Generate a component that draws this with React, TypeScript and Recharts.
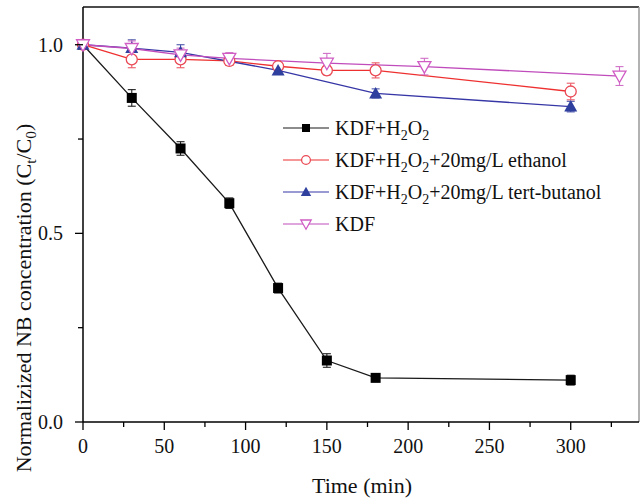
import React from "react";
import {
  LineChart,
  Line,
  XAxis,
  YAxis,
  ErrorBar,
  ReferenceLine,
  Legend,
  Label,
} from "recharts";

// 시간 (min) / 정규화 농도 C_t/C_0 / 표준편차
const kdfH2o2Time = [0, 30, 60, 90, 120, 150, 180, 300];
const kdfH2o2Value = [1.0, 0.859, 0.725, 0.58, 0.355, 0.163, 0.117, 0.111];
const kdfH2o2Err = [0, 0.022, 0.018, 0.014, 0.013, 0.018, 0.008, 0.013];

const ethanolTime = [0, 30, 60, 90, 120, 150, 180, 300];
const ethanolValue = [1.0, 0.961, 0.961, 0.957, 0.943, 0.932, 0.932, 0.876];
const ethanolErr = [0, 0.022, 0.022, 0.012, 0.01, 0.012, 0.02, 0.022];

const butanolTime = [0, 30, 60, 120, 180, 300];
const butanolValue = [1.0, 0.991, 0.98, 0.932, 0.871, 0.836];
const butanolErr = [0, 0.022, 0.02, 0.01, 0.012, 0.014];

const kdfTime = [0, 30, 60, 90, 150, 210, 330];
const kdfValue = [1.0, 0.99, 0.973, 0.964, 0.951, 0.942, 0.917];
const kdfErr = [0, 0.02, 0.018, 0.015, 0.026, 0.022, 0.025];

const xTicks = [0, 25, 50, 75, 100, 125, 150, 175, 200, 225, 250, 275, 300, 325];
const yTicks = [0, 0.25, 0.5, 0.75, 1.0];

const toRows = (t: number[], v: number[], e: number[]) =>
  t.map((time, i) => ({ time, value: v[i], err: e[i] }));

const FONT = '"Liberation Serif", "Times New Roman", serif';

type Shape = "square" | "circle" | "triangle" | "invTriangle";

const SERIES = [
  {
    name: "KDF+H_2O_2",
    data: toRows(kdfH2o2Time, kdfH2o2Value, kdfH2o2Err),
    line: "#1a1a1a",
    mark: "#000000",
    err: "#222222",
    shape: "square" as Shape,
  },
  {
    name: "KDF+H_2O_2+20mg/L ethanol",
    data: toRows(ethanolTime, ethanolValue, ethanolErr),
    line: "#ee3030",
    mark: "#ea4a55",
    err: "#ea5a66",
    shape: "circle" as Shape,
  },
  {
    name: "KDF+H_2O_2+20mg/L tert-butanol",
    data: toRows(butanolTime, butanolValue, butanolErr),
    line: "#3636a6",
    mark: "#2e3f9e",
    err: "#4a55aa",
    shape: "triangle" as Shape,
  },
  {
    name: "KDF",
    data: toRows(kdfTime, kdfValue, kdfErr),
    line: "#c04cbc",
    mark: "#d05cc4",
    err: "#d070c8",
    shape: "invTriangle" as Shape,
  },
];

// 마커 모양
const Marker = ({ shape, cx, cy, color, s = 1 }: any) => {
  if (cx == null || cy == null) return null;
  switch (shape) {
    case "square":
      return <rect x={cx - 5 * s} y={cy - 5 * s} width={10 * s} height={10 * s} fill={color} />;
    case "circle":
      return <circle cx={cx} cy={cy} r={5.5 * s} fill="#fff" stroke={color} strokeWidth={1.3} />;
    case "triangle":
      return (
        <polygon
          points={`${cx},${cy - 6.5 * s} ${cx - 6.5 * s},${cy + 5 * s} ${cx + 6.5 * s},${cy + 5 * s}`}
          fill={color}
        />
      );
    default:
      return (
        <polygon
          points={`${cx - 6.5 * s},${cy - 5 * s} ${cx + 6.5 * s},${cy - 5 * s} ${cx},${cy + 6.5 * s}`}
          fill="#fff"
          stroke={color}
          strokeWidth={1.3}
        />
      );
  }
};

// "_x" 다음 글자를 아래첨자로
const subText = (text: string, size: number) => {
  const parts = text.split(/_(.)/);
  let shift = 0;
  return parts.map((p, i) => {
    const isSub = i % 2 === 1;
    const dy = isSub ? 5 - shift : -shift;
    shift = isSub ? 5 : 0;
    return (
      <tspan key={i} dy={dy} fontSize={isSub ? size * 0.7 : size} fontFamily={FONT}>
        {p}
      </tspan>
    );
  });
};

const XTick = ({ x, y, payload }: any) => {
  const major = payload.value % 50 === 0;
  return (
    <g>
      <line x1={x} x2={x} y1={y} y2={y + (major ? 8 : 5)} stroke="#000" strokeWidth={1.3} />
      {major && (
        <text x={x} y={y + 31} textAnchor="middle" fontSize={20} fontFamily={FONT} fill="#111">
          {payload.value}
        </text>
      )}
    </g>
  );
};

const YTick = ({ x, y, payload }: any) => {
  const major = Math.abs((payload.value * 2) % 1) < 1e-6;
  return (
    <g>
      <line x1={x} x2={x - (major ? 8 : 5)} y1={y} y2={y} stroke="#000" strokeWidth={1.3} />
      {major && (
        <text x={x - 20} y={y + 7} textAnchor="end" fontSize={20} fontFamily={FONT} fill="#111">
          {payload.value.toFixed(1)}
        </text>
      )}
    </g>
  );
};

const LegendBox = () => (
  <svg width={360} height={130}>
    {SERIES.map((s, i) => {
      const cy = 16 + i * 32;
      return (
        <g key={s.name}>
          <line x1={3} x2={49} y1={cy} y2={cy} stroke={s.line} strokeWidth={1.2} />
          <Marker shape={s.shape} cx={26} cy={cy} color={s.mark} s={0.8} />
          <text x={55} y={cy + 7} fontFamily={FONT} fill="#111">
            {subText(s.name, 20)}
          </text>
        </g>
      );
    })}
  </svg>
);

export default function App() {
  return (
    <div style={{ position: "absolute", left: 0, top: 0, background: "#fff" }}>
      <LineChart width={641} height={498} margin={{ top: 7, right: 2, left: 0, bottom: 0 }}>
        <XAxis
          dataKey="time"
          type="number"
          domain={[0, 342]}
          ticks={xTicks}
          interval={0}
          tick={<XTick />}
          tickLine={false}
          tickSize={0}
          tickMargin={0}
          height={76}
          axisLine={{ stroke: "#000", strokeWidth: 1.5 }}
          allowDuplicatedCategory={false}
        >
          <Label
            content={() => (
              <text x={362} y={493} textAnchor="middle" fontSize={22} fontFamily={FONT} fill="#111">
                Time (min)
              </text>
            )}
          />
        </XAxis>
        <YAxis
          type="number"
          domain={[0, 1.1]}
          ticks={yTicks}
          interval={0}
          tick={<YTick />}
          tickLine={false}
          tickSize={0}
          tickMargin={0}
          width={83}
          axisLine={{ stroke: "#000", strokeWidth: 1.5 }}
        >
          <Label
            content={() => (
              <text
                transform="translate(31,298) rotate(-90)"
                textAnchor="middle"
                fontFamily={FONT}
                fill="#111"
              >
                {subText("Normalizized NB concentration (C_t/C_0)", 22)}
              </text>
            )}
          />
        </YAxis>
        <ReferenceLine y={1.1} stroke="#111" strokeWidth={1.5} />
        <ReferenceLine x={342} stroke="#999" strokeWidth={1.5} />
        {SERIES.map((s) => (
          <Line
            key={s.name}
            data={s.data}
            dataKey="value"
            name={s.name}
            type="linear"
            stroke={s.line}
            strokeWidth={1.3}
            isAnimationActive={false}
            dot={(p: any) => (
              <Marker key={`${s.shape}-${p.index}`} shape={s.shape} cx={p.cx} cy={p.cy} color={s.mark} />
            )}
            activeDot={false}
          >
            <ErrorBar dataKey="err" direction="y" width={4} stroke={s.err} strokeWidth={1.1} />
          </Line>
        ))}
        <Legend
          layout="vertical"
          align="center"
          verticalAlign="middle"
          content={<LegendBox />}
          wrapperStyle={{ left: 280, top: 112, width: 360, height: 130 }}
        />
      </LineChart>
    </div>
  );
}
